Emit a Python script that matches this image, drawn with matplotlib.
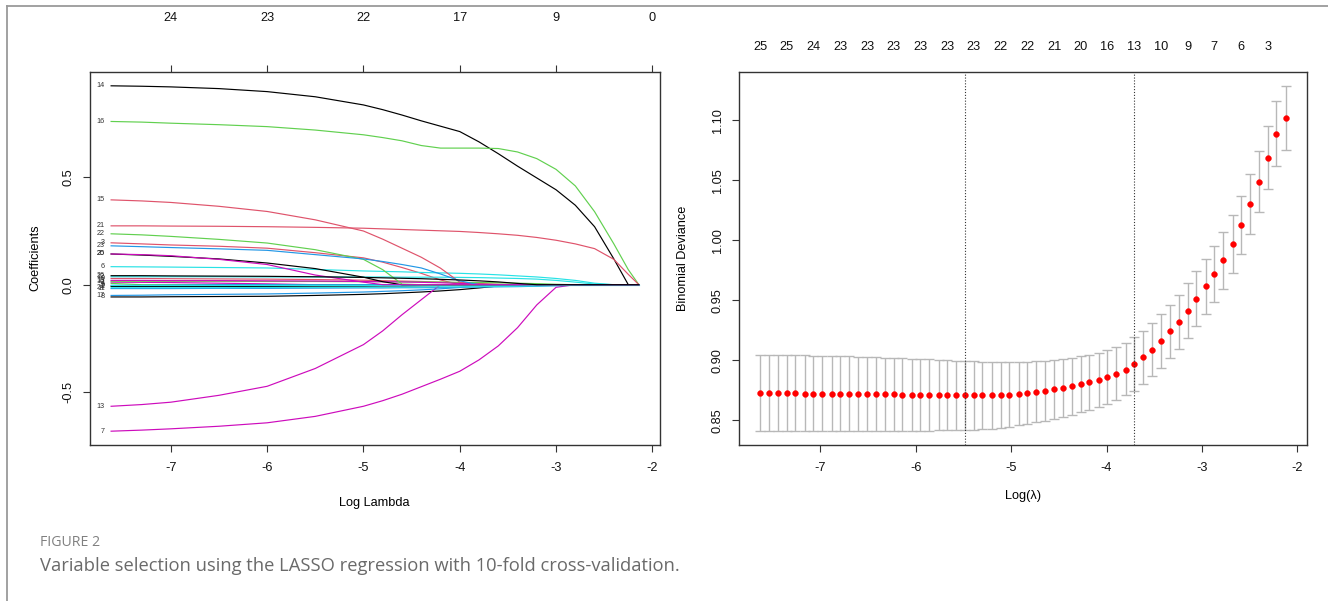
import numpy as np
import matplotlib
matplotlib.use("Agg")
import matplotlib.pyplot as plt
from matplotlib.lines import Line2D
from matplotlib.transforms import blended_transform_factory

plt.rcParams['font.family'] = ['Liberation Sans', 'DejaVu Sans']
plt.rcParams['axes.unicode_minus'] = False

# ---------------- left panel : LASSO coefficient paths ----------------
log_lambda_path = [-7.62, -7.3, -7.0, -6.5, -6.0, -5.5, -5.0, -4.8, -4.6, -4.4, -4.2,
                   -4.0, -3.8, -3.6, -3.4, -3.2, -3.0, -2.8, -2.6, -2.4, -2.25, -2.14]

coef_1 = [0.012, 0.011, 0.010, 0.007, 0.004, 0, 0, 0, 0, 0, 0, 0, 0, 0, 0, 0, 0, 0, 0, 0, 0, 0]
coef_2 = [-0.008, -0.008, -0.008, -0.008, -0.008, -0.007, -0.007, -0.006, -0.006, -0.005, -0.004,
          -0.002, 0, 0, 0, 0, 0, 0, 0, 0, 0, 0]
coef_3 = [0.195, 0.190, 0.185, 0.179, 0.170, 0.149, 0.125, 0.105, 0.080, 0.053, 0.022,
          0, 0, 0, 0, 0, 0, 0, 0, 0, 0, 0]
coef_4 = [0.006, 0, 0, 0, 0, 0, 0, 0, 0, 0, 0, 0, 0, 0, 0, 0, 0, 0, 0, 0, 0, 0]
coef_5 = [-0.003, -0.003, -0.002, 0, 0, 0, 0, 0, 0, 0, 0, 0, 0, 0, 0, 0, 0, 0, 0, 0, 0, 0]
coef_6 = [0.084, 0.083, 0.082, 0.080, 0.078, 0.071, 0.064, 0.062, 0.060, 0.057, 0.055,
          0.053, 0.050, 0.046, 0.041, 0.036, 0.029, 0.020, 0.007, 0, 0, 0]
coef_7 = [-0.682, -0.677, -0.671, -0.659, -0.643, -0.613, -0.566, -0.540, -0.510, -0.475, -0.440,
          -0.403, -0.350, -0.285, -0.200, -0.094, -0.012, 0, 0, 0, 0, 0]
coef_8 = [-0.057, -0.057, -0.056, -0.055, -0.054, -0.050, -0.045, -0.042, -0.038, -0.034, -0.029,
          -0.023, -0.015, -0.006, 0, 0, 0, 0, 0, 0, 0, 0]
coef_9 = [0.029, 0.029, 0.028, 0.027, 0.026, 0.024, 0.021, 0.019, 0.017, 0.015, 0.012,
          0.009, 0.006, 0.002, 0, 0, 0, 0, 0, 0, 0, 0]
coef_10 = [0.016, 0.016, 0.016, 0.016, 0.015, 0.015, 0.014, 0.014, 0.013, 0.013, 0.012,
           0.011, 0.010, 0.009, 0.007, 0.005, 0.002, 0, 0, 0, 0, 0]
coef_11 = [-0.018, -0.018, -0.018, -0.017, -0.017, -0.016, -0.015, -0.015, -0.014, -0.014, -0.013,
           -0.012, -0.011, -0.010, -0.009, -0.007, -0.005, -0.002, 0, 0, 0, 0]
coef_12 = [0.037, 0.037, 0.037, 0.037, 0.036, 0.036, 0.036, 0.036, 0.035, 0.035, 0.035,
           0.034, 0.033, 0.031, 0.029, 0.026, 0.020, 0.012, 0.003, 0, 0, 0]
coef_13 = [-0.566, -0.558, -0.547, -0.515, -0.473, -0.390, -0.279, -0.215, -0.140, -0.070, 0,
           0, 0, 0, 0, 0, 0, 0, 0, 0, 0, 0]
coef_14 = [0.926, 0.924, 0.921, 0.913, 0.899, 0.875, 0.837, 0.815, 0.790, 0.763, 0.738,
           0.713, 0.665, 0.610, 0.552, 0.497, 0.442, 0.370, 0.270, 0.120, 0.0, 0.0]
coef_15 = [0.395, 0.390, 0.383, 0.365, 0.341, 0.302, 0.250, 0.212, 0.170, 0.128, 0.077,
           0.012, 0, 0, 0, 0, 0, 0, 0, 0, 0, 0]
coef_16 = [0.760, 0.757, 0.752, 0.745, 0.736, 0.720, 0.698, 0.685, 0.670, 0.648, 0.636,
           0.636, 0.636, 0.634, 0.618, 0.587, 0.537, 0.460, 0.340, 0.190, 0.070, 0.0]
coef_17 = [-0.050, -0.049, -0.047, -0.045, -0.043, -0.039, -0.034, -0.031, -0.028, -0.024, -0.019,
           -0.013, 0, 0, 0, 0, 0, 0, 0, 0, 0, 0]
coef_18 = [0, 0, 0, 0, 0, 0, 0, 0, 0, 0, 0, 0, 0, 0, 0, 0, 0, 0, 0, 0, 0, 0]
coef_19 = [0.020, 0.020, 0.019, 0.019, 0.018, 0.017, 0.015, 0.014, 0.013, 0.011, 0.009,
           0.006, 0.002, 0, 0, 0, 0, 0, 0, 0, 0, 0]
coef_20 = [0.143, 0.138, 0.132, 0.120, 0.101, 0.075, 0.035, 0.014, 0, 0, 0,
           0, 0, 0, 0, 0, 0, 0, 0, 0, 0, 0]
coef_21 = [0.274, 0.274, 0.273, 0.272, 0.270, 0.267, 0.263, 0.260, 0.257, 0.254, 0.251,
           0.248, 0.243, 0.237, 0.230, 0.220, 0.207, 0.190, 0.168, 0.118, 0.048, 0.0]
coef_22 = [0.237, 0.232, 0.225, 0.211, 0.194, 0.163, 0.118, 0.070, 0.003, 0, 0,
           0, 0, 0, 0, 0, 0, 0, 0, 0, 0, 0]
coef_23 = [0.181, 0.177, 0.173, 0.167, 0.160, 0.140, 0.120, 0.108, 0.094, 0.078, 0.050,
           0.018, 0, 0, 0, 0, 0, 0, 0, 0, 0, 0]
coef_24 = [-0.014, -0.014, -0.014, -0.014, -0.013, -0.013, -0.012, -0.012, -0.011, -0.011, -0.010,
           -0.010, -0.009, -0.008, -0.007, -0.005, -0.003, -0.001, 0, 0, 0, 0]
coef_25 = [0.143, 0.140, 0.135, 0.118, 0.094, 0.045, 0.012, 0, 0, 0, 0,
           0, 0, 0, 0, 0, 0, 0, 0, 0, 0, 0]
coef_26 = [0.042, 0.042, 0.041, 0.040, 0.039, 0.037, 0.034, 0.032, 0.030, 0.028, 0.025,
           0.022, 0.018, 0.013, 0.006, 0, 0, 0, 0, 0, 0, 0]

path_top_ticks = [-7, -6, -5, -4, -3, -2]
path_top_labels = ['24', '23', '22', '17', '9', '0']

# ---------------- right panel : 10-fold CV binomial deviance ----------------
cv_log_lambda = [-7.63, -7.54, -7.44, -7.35, -7.26, -7.16, -7.07, -6.98, -6.88, -6.79,
                 -6.70, -6.60, -6.51, -6.42, -6.32, -6.23, -6.14, -6.04, -5.95, -5.86,
                 -5.76, -5.67, -5.58, -5.48, -5.39, -5.30, -5.20, -5.11, -5.02, -4.92,
                 -4.83, -4.74, -4.64, -4.55, -4.46, -4.36, -4.27, -4.18, -4.08, -3.99,
                 -3.90, -3.80, -3.71, -3.62, -3.52, -3.43, -3.34, -3.24, -3.15, -3.06,
                 -2.96, -2.87, -2.78, -2.68, -2.59, -2.50, -2.40, -2.31, -2.22, -2.12]
cv_mean = [0.8725, 0.8725, 0.8724, 0.8723, 0.8723, 0.8722, 0.8722, 0.8721, 0.8720, 0.8720,
           0.8719, 0.8718, 0.8717, 0.8716, 0.8715, 0.8714, 0.8713, 0.8712, 0.8711, 0.8710,
           0.8709, 0.8708, 0.8707, 0.8706, 0.8706, 0.8706, 0.8707, 0.8708, 0.8711, 0.8717,
           0.8725, 0.8733, 0.8744, 0.8758, 0.8772, 0.8786, 0.8800, 0.8817, 0.8833, 0.8856,
           0.8886, 0.8922, 0.8967, 0.9025, 0.9083, 0.9156, 0.9239, 0.9322, 0.9411, 0.9511,
           0.9614, 0.9719, 0.9836, 0.9967, 1.0125, 1.0303, 1.0486, 1.0683, 1.0886, 1.1017]
cv_upper = [0.9042, 0.9041, 0.9041, 0.9040, 0.9040, 0.9039, 0.9038, 0.9036, 0.9034, 0.9032,
            0.9031, 0.9029, 0.9027, 0.9025, 0.9022, 0.9019, 0.9016, 0.9013, 0.9010, 0.9006,
            0.9003, 0.9000, 0.8997, 0.8994, 0.8990, 0.8986, 0.8983, 0.8981, 0.8981, 0.8983,
            0.8986, 0.8989, 0.8994, 0.9003, 0.9008, 0.9019, 0.9033, 0.9044, 0.9058, 0.9081,
            0.9108, 0.9147, 0.9192, 0.9244, 0.9306, 0.9381, 0.9461, 0.9547, 0.9642, 0.9739,
            0.9844, 0.9947, 1.0069, 1.0206, 1.0369, 1.0550, 1.0742, 1.0947, 1.1156, 1.1286]
cv_lower = [0.8408, 0.8408, 0.8408, 0.8408, 0.8408, 0.8408, 0.8408, 0.8409, 0.8409, 0.8409,
            0.8409, 0.8410, 0.8410, 0.8410, 0.8411, 0.8411, 0.8412, 0.8412, 0.8413, 0.8413,
            0.8414, 0.8415, 0.8416, 0.8417, 0.8421, 0.8425, 0.8430, 0.8436, 0.8444, 0.8456,
            0.8467, 0.8481, 0.8494, 0.8511, 0.8528, 0.8544, 0.8567, 0.8583, 0.8606, 0.8633,
            0.8664, 0.8706, 0.8747, 0.8803, 0.8864, 0.8936, 0.9014, 0.9097, 0.9183, 0.9281,
            0.9383, 0.9486, 0.9597, 0.9728, 0.9881, 1.0053, 1.0233, 1.0425, 1.0617, 1.0750]
cv_nonzero = ['25', '25', '24', '23', '23', '23', '23', '23', '23', '22',
              '22', '21', '20', '16', '13', '10', '9', '7', '6', '3']

# R default palette (matplot col = 1:6)
r_pal = ['#000000', '#DF536B', '#61D04F', '#2297E6', '#28E2E5', '#CD0BBC']

W, H = 1328, 601
fig = plt.figure(figsize=(W / 100, H / 100), dpi=100)


def fx(px):
    return px / W


def fy(py):
    return 1 - py / H


def style_axes(ax):
    for sp in ax.spines.values():
        sp.set_color('#333333')
        sp.set_linewidth(1.0)
    ax.tick_params(direction='out', length=5, width=0.8, color='#333333',
                   labelsize=9.2, labelcolor='#111111')
    ax.tick_params(axis='x', pad=7)
    ax.tick_params(axis='y', pad=6)
    for lab in ax.get_yticklabels():
        lab.set_rotation(90)
        lab.set_va('center')


def expand(lo, hi, frac=0.04):
    r = hi - lo
    return lo - frac * r, hi + frac * r


# ---- left axes ----
ax1 = fig.add_axes([fx(90), fy(445), fx(660) - fx(90), fy(72) - fy(445)])
coefs = [coef_1, coef_2, coef_3, coef_4, coef_5, coef_6, coef_7, coef_8, coef_9, coef_10,
         coef_11, coef_12, coef_13, coef_14, coef_15, coef_16, coef_17, coef_18, coef_19,
         coef_20, coef_21, coef_22, coef_23, coef_24, coef_25, coef_26]
for k, c in enumerate(coefs, start=1):
    ax1.plot(log_lambda_path, c, color=r_pal[(k - 2) % 6], lw=0.85)
for k, c in enumerate(coefs, start=1):
    if any(v != 0 for v in c):
        ax1.annotate(str(k), (log_lambda_path[0], c[0]), xytext=(-4.5, 0),
                     textcoords='offset points', ha='right', va='center',
                     fontsize=5.2, color='#333333')

all_c = np.concatenate([np.asarray(c) for c in coefs])
ax1.set_xlim(*expand(min(log_lambda_path), max(log_lambda_path)))
ax1.set_ylim(*expand(all_c.min(), all_c.max()))
ax1.set_xticks(path_top_ticks)
ax1.set_xticklabels([str(t) for t in path_top_ticks])
ax1.set_yticks([-0.5, 0.0, 0.5])
ax1.set_yticklabels(['-0.5', '0.0', '0.5'])
ax1.tick_params(axis='x', top=True)
style_axes(ax1)
trans1 = blended_transform_factory(ax1.transData, ax1.transAxes)
for t, lab in zip(path_top_ticks, path_top_labels):
    ax1.text(t, 1 + (72 - 18) / 373, lab, transform=trans1, ha='center', va='center',
             fontsize=9.2, color='#111111')
fig.text(fx(35), fy(258), 'Coefficients', rotation=90, ha='center', va='center', fontsize=9.2)
fig.text(fx(374), fy(503), 'Log Lambda', ha='center', va='center', fontsize=9.2)

# ---- right axes ----
ax2 = fig.add_axes([fx(739), fy(445), fx(1307) - fx(739), fy(72) - fy(445)])
ax2.errorbar(cv_log_lambda, cv_mean,
             yerr=[np.subtract(cv_mean, cv_lower), np.subtract(cv_upper, cv_mean)],
             fmt='none', ecolor='#b8b8b8', elinewidth=1.0, capsize=3.5, capthick=1.0)
ax2.plot(cv_log_lambda, cv_mean, 'o', color='#ff0000', ms=4.2, mec='#ff0000', mew=0.3)

i_min = int(np.argmin(cv_mean))
se_min = (cv_upper[i_min] - cv_lower[i_min]) / 2
i_1se = max(i for i, m in enumerate(cv_mean) if m <= cv_mean[i_min] + se_min)
for i in (i_min, i_1se):
    ax2.axvline(cv_log_lambda[i], color='#333333', lw=0.8, ls=(0, (1, 1.6)))

ax2.set_xlim(*expand(min(cv_log_lambda), max(cv_log_lambda)))
ax2.set_ylim(*expand(min(cv_lower), max(cv_upper)))
ax2.set_xticks([-7, -6, -5, -4, -3, -2])
ax2.set_xticklabels(['-7', '-6', '-5', '-4', '-3', '-2'])
ax2.set_yticks([0.85, 0.90, 0.95, 1.00, 1.05, 1.10])
ax2.set_yticklabels(['0.85', '0.90', '0.95', '1.00', '1.05', '1.10'])
style_axes(ax2)
trans2 = blended_transform_factory(ax2.transData, ax2.transAxes)
for x, lab in zip(cv_log_lambda[0::3], cv_nonzero):
    ax2.text(x, 1 + (72 - 47) / 373, lab, transform=trans2, ha='center', va='center',
             fontsize=9.2, color='#111111')
fig.text(fx(683), fy(258), 'Binomial Deviance', rotation=90, ha='center', va='center',
         fontsize=9.2)
fig.text(fx(1023), fy(496), 'Log(\u03bb)', ha='center', va='center', fontsize=9.2)

# ---- caption and page frame ----
fig.text(fx(40), fy(543), 'FIGURE 2', ha='left', va='center', fontsize=10.2,
         color='#808080', family=['Open Sans', 'DejaVu Sans'])
fig.text(fx(40), fy(566), 'Variable selection using the LASSO regression with 10-fold cross-validation.',
         ha='left', va='center', fontsize=13.2, color='#6a6a6a', family=['Open Sans', 'DejaVu Sans'])
fig.add_artist(Line2D([fx(7), 1], [fy(5.5), fy(5.5)], color='#9a9a9a', lw=1.3,
                      transform=fig.transFigure))
fig.add_artist(Line2D([fx(7), fx(7)], [fy(5.5), 0], color='#9a9a9a', lw=1.3,
                      transform=fig.transFigure))

fig.savefig('out.png', dpi=100, facecolor='white')
